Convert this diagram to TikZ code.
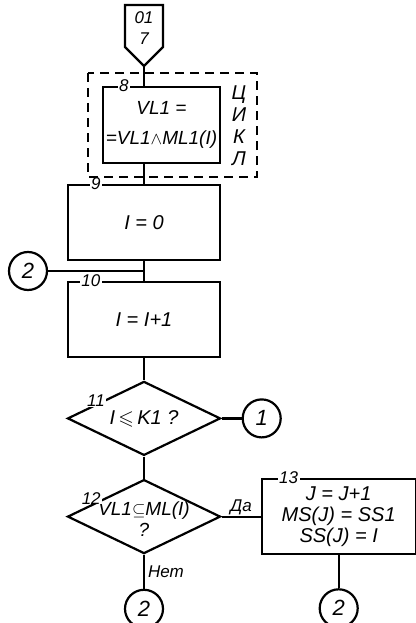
\documentclass[tikz,border=0pt]{standalone}
\usepackage{amssymb}
\usepackage{fontspec}
\setmainfont{Liberation Sans}
\usetikzlibrary{positioning,calc,shapes.geometric}

\begin{document}
\begin{tikzpicture}[
  x=1pt,y=-1pt,
  line width=2.2pt,
  box/.style={draw,rectangle,minimum width=152pt,minimum height=75pt,inner sep=0pt,align=center,font=\itshape\fontsize{20}{30}\selectfont},
  dia/.style={draw,diamond,minimum width=153pt,minimum height=74pt,inner sep=0pt},
  txt/.style={align=center,inner sep=0pt,font=\itshape\fontsize{19}{21}\selectfont},
  conn/.style={draw,circle,minimum size=38pt,inner sep=0pt,font=\itshape\fontsize{22}{22}\selectfont},
  num/.style={fill=white,inner xsep=1.5pt,inner ysep=0pt,font=\itshape\fontsize{17}{17}\selectfont},
  loopframe/.style={dashed,dash pattern=on 9pt off 6pt,line width=1.8pt}
]
\useasboundingbox (0,0) rectangle (415,623);
% off-page entry
\draw (125,5) -- (163,5) -- (163,47) -- (144,66) -- (125,47) -- cycle;
\coordinate (entry) at (144,66);
\node[txt,font=\itshape\fontsize{17}{21}\selectfont] (entrytxt) at (144,28) {01\\7};
% main column
\node[box,minimum width=117pt,minimum height=76pt,font=\itshape\fontsize{19}{30}\selectfont] (b8) at (161.5,125) {VL1 =\\=VL1$\wedge$ML1(I)};
\node[box] (b9) at (144,222.5) {I = 0};
\node[box,below=20pt of b9] (b10) {I = I+1};
\node[dia,below=22pt of b10] (d11) {};
\node[txt,font=\itshape\fontsize{20}{22}\selectfont] (t11) at (d11) {I\,$\leqslant$\,K1 ?};
\node[dia,below=22pt of d11] (d12) {};
\node[txt] (t12) at ([yshift=-3pt]d12.center) {VL1$\subseteq$ML(I)\\?};
\node[box,minimum width=154pt,right=39pt of d12,font=\itshape\fontsize{20}{21}\selectfont] (b13) {J = J+1\\MS(J) = SS1\\SS(J) = I};
% connectors
\node[conn,right=20pt of d11] (c1) {1};
\node[conn] (c2a) at (28,271) {2};
\node[conn,below=34pt of d12] (c2b) {2};
\node[conn,below=33pt of b13] (c2c) {2};
% loop frame
\draw[loopframe] (88,73) rectangle (257,177);
\node[txt,font=\itshape\fontsize{20}{22}\selectfont] (cycle) at (239,126) {Ц\\И\\К\\Л};
% block numbers
\node[num] (n8) at ([xshift=22pt]b8.north west) {8};
\node[num] (n9) at ([xshift=29pt]b9.north west) {9};
\node[num] (n10) at ([xshift=24pt]b10.north west) {10};
\node[num] (n11) at ([yshift=3pt]$(d11.west)!0.38!(d11.north)$) {11};
\node[num] (n12) at ([yshift=6pt]$(d12.west)!0.32!(d12.north)$) {12};
\node[num] (n13) at ([xshift=28pt]b13.north west) {13};
% flow lines
\draw (entry) -- (entry |- b8.north);
\draw (b8.south -| b9.north) -- (b9.north);
\draw (b9.south) -- (b10.north);
\draw (c2a.east) -- (c2a.east -| b10.north);
\draw (b10.south) -- (d11.north);
\draw (d11.east) -- (c1.west);
\draw (d11.south) -- (d12.north);
\draw (d12.east) -- node[above=1pt,txt,font=\itshape\fontsize{17}{17}\selectfont] (yes) {Да} (b13.west);
\draw (d12.south) -- node[right=3pt,txt,font=\itshape\fontsize{17}{17}\selectfont] (no) {Нет} (c2b.north);
\draw (b13.south) -- (c2c.north);
\end{tikzpicture}
\end{document}
